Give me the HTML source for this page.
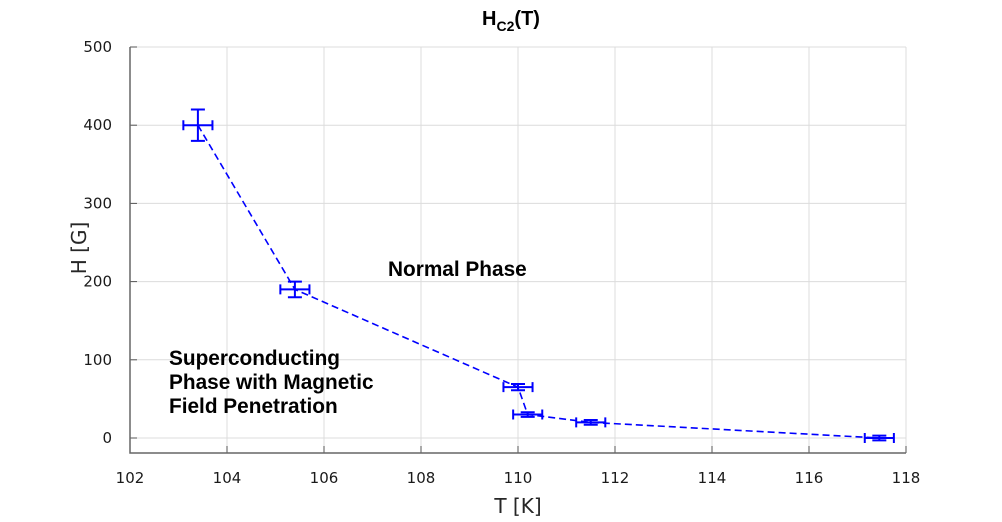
<!DOCTYPE html>
<html><head><meta charset="utf-8"><style>
body{margin:0;background:#fff;}
svg{display:block;font-family:"DejaVu Sans","Liberation Sans",sans-serif;}
</style></head><body>
<svg id="chart" width="1002" height="522" xmlns="http://www.w3.org/2000/svg">
<g id="grid"></g>
<g id="axes"></g>
<g id="series"></g>
<text x="511" y="25" font-family="Liberation Sans, sans-serif" font-weight="bold" font-size="20" text-anchor="middle">H<tspan font-size="14" dy="6">C2</tspan><tspan dy="-6">(T)</tspan></text>
<text x="518" y="513" font-size="20" text-anchor="middle" fill="#262626">T [K]</text>
<text transform="translate(86,248) rotate(-90)" font-size="20" text-anchor="middle" fill="#262626">H [G]</text>
<text x="388" y="276" font-family="Liberation Sans, sans-serif" font-weight="bold" font-size="20.8">Normal Phase</text>
<text font-family="Liberation Sans, sans-serif" font-weight="bold" font-size="20.8">
<tspan x="169" y="365">Superconducting</tspan><tspan x="169" y="389">Phase with Magnetic</tspan><tspan x="169" y="413">Field Penetration</tspan></text>
</svg>
<script>
const xTicks=[102,104,106,108,110,112,114,116,118];
const yTicks=[0,100,200,300,400,500];
const tVals=[103.4,105.4,110.0,110.2,111.5,117.45];
const hVals=[400,190,65,30,20,0];
const tErr=[0.3,0.3,0.3,0.3,0.3,0.3];
const hErr=[20,10,4,3,3,3];
const X0=130,X1=906,Ytop=47,Ybot=453;
const x=v=>X0+(v-102)/(118-102)*(X1-X0);
const y=v=>438-v/500*(438-Ytop);
const NS="http://www.w3.org/2000/svg";
function mk(p,tag,a){const e=document.createElementNS(NS,tag);for(const k in a)e.setAttribute(k,a[k]);p.appendChild(e);return e;}
const grid=document.getElementById('grid'),axes=document.getElementById('axes'),ser=document.getElementById('series');
xTicks.forEach(t=>{
 const g=mk(grid,'line',{x1:x(t),x2:x(t),y1:Ytop,y2:Ybot,stroke:'#dcdcdc','stroke-width':1});
 
 
 mk(axes,'line',{x1:x(t),x2:x(t),y1:Ybot,y2:Ybot-7,stroke:'#555','stroke-width':1});
 const l=mk(axes,'text',{x:x(t),y:Ybot+30,'text-anchor':'middle','font-size':15,fill:'#1a1a1a'});
 l.textContent=t;
 
 
});
yTicks.forEach(t=>{
 const g=mk(grid,'line',{x1:X0,x2:X1,y1:y(t),y2:y(t),stroke:'#dcdcdc','stroke-width':1});
 
 
 mk(axes,'line',{x1:X0,x2:X0+7,y1:y(t),y2:y(t),stroke:'#555','stroke-width':1});
 const l=mk(axes,'text',{x:X0-18,y:y(t)+5,'text-anchor':'end','font-size':15,fill:'#1a1a1a'});
 l.textContent=t;
 
 
});
mk(axes,'path',{d:`M${X0},${Ytop}V${Ybot}H${X1}`,fill:'none',stroke:'#666','stroke-width':1.5});
const line=mk(ser,'polyline',{points:tVals.map((t,i)=>x(t)+','+y(hVals[i])).join(' '),fill:'none',stroke:'#0000ff','stroke-width':1.6,'stroke-dasharray':'7,4'});


tVals.forEach((t,i)=>{
 const g=mk(ser,'g',{stroke:'#0000ff','stroke-width':2,fill:'none'});
 
 
 const cx=x(t),cy=y(hVals[i]),xl=x(t-tErr[i]),xr=x(t+tErr[i]),yt=y(hVals[i]+hErr[i]),yb=y(hVals[i]-hErr[i]);
 mk(g,'path',{d:`M${xl},${cy}H${xr}M${xl},${cy-5}V${cy+5}M${xr},${cy-5}V${cy+5}M${cx},${yt}V${yb}M${cx-7},${yt}H${cx+7}M${cx-7},${yb}H${cx+7}`});
});
</script>
</body></html>
